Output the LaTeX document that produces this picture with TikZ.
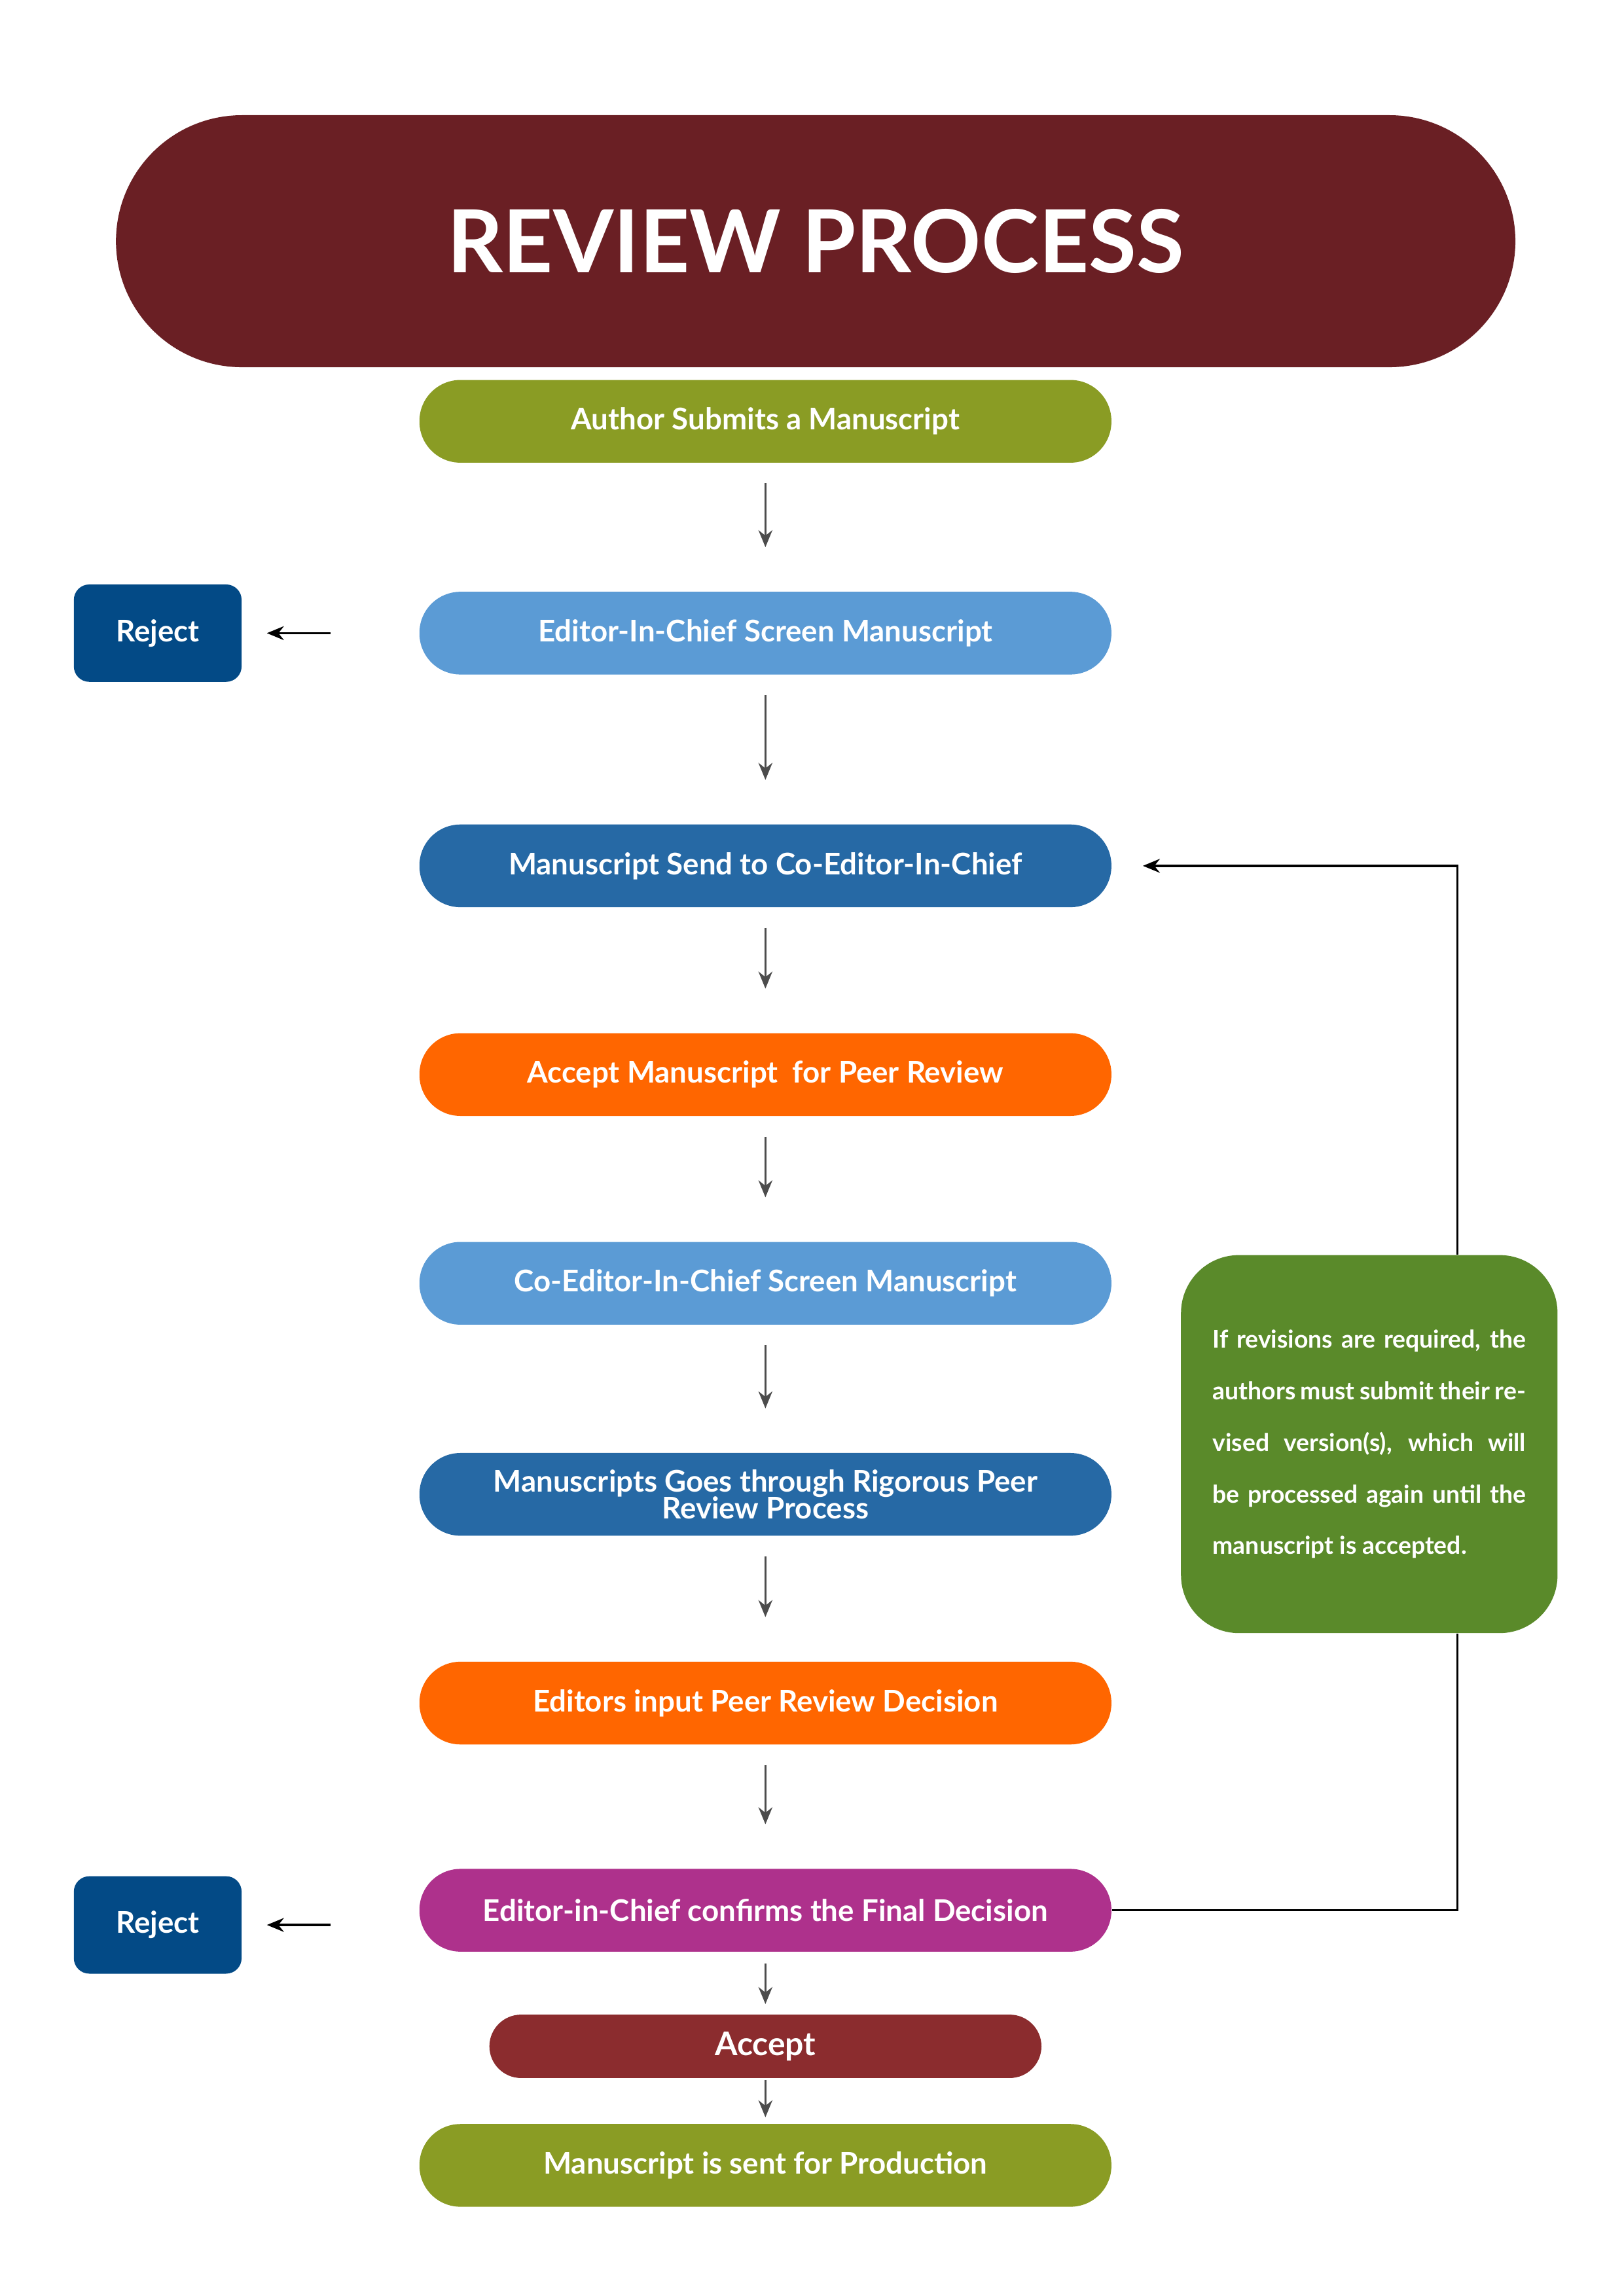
\documentclass[tikz,border=0pt]{standalone}
\usepackage{fontspec}
\setmainfont{Lato}
\usetikzlibrary{arrows.meta,positioning}
\definecolor{titlered}{HTML}{6A1F24}
\definecolor{olive}{HTML}{8A9C24}
\definecolor{lightblue}{HTML}{5B9BD5}
\definecolor{darkblue}{HTML}{2669A5}
\definecolor{orangebox}{HTML}{FF6600}
\definecolor{magentabox}{HTML}{AE318C}
\definecolor{acceptred}{HTML}{8B2C2E}
\definecolor{rejectblue}{HTML}{034A86}
\definecolor{notegreen}{HTML}{5A8A2A}
\tikzset{
  stepbox/.style={rounded corners=0.53cm, minimum width=8.95cm, minimum height=1.07cm,
    text=white, font=\fontsize{11}{12}\selectfont\bfseries, align=center, inner sep=2pt},
  rejectbox/.style={rounded corners=0.2cm, fill=rejectblue, minimum width=2.17cm,
    minimum height=1.26cm, text=white, font=\fontsize{11}{12}\selectfont\bfseries},
  flow/.style={draw=black!70, thick, -{Stealth[length=2.2mm,width=1.8mm]},
    shorten <=0.26cm, shorten >=0.57cm},
  back/.style={draw=black, thick, -{Stealth[length=2.2mm,width=1.8mm]}}
}
\begin{document}
\begin{tikzpicture}
\useasboundingbox (0,0) rectangle (21,-29.7);
% Titulo
\node[fill=titlered, rounded corners=1.63cm, minimum width=18.1cm, minimum height=3.26cm,
  text=white, font=\fontsize{32}{34}\selectfont\bfseries] (title) at (10.55,-3.12) {REVIEW PROCESS};

% Pasos
\node[stepbox, fill=olive] (submit) at (9.90,-5.45) {Author Submits a Manuscript};
\node[stepbox, fill=lightblue] (eicscreen) at (9.90,-8.19) {Editor-In-Chief Screen Manuscript};
\node[stepbox, fill=darkblue] (send) at (9.90,-11.20) {Manuscript Send to Co-Editor-In-Chief};
\node[stepbox, fill=orangebox] (acceptpeer) at (9.90,-13.90) {Accept Manuscript\ \ for Peer Review};
\node[stepbox, fill=lightblue] (coscreen) at (9.90,-16.60) {Co-Editor-In-Chief Screen Manuscript};
\node[stepbox, fill=darkblue] (rigorous) at (9.90,-19.33) {Manuscripts Goes through Rigorous Peer\\[-2pt] Review Process};
\node[stepbox, fill=orangebox] (input) at (9.90,-22.03) {Editors input Peer Review Decision};
\node[stepbox, fill=magentabox] (confirm) at (9.90,-24.71) {Editor-in-Chief confirms the Final Decision};
\node[stepbox, fill=acceptred, minimum width=7.14cm, minimum height=0.82cm, rounded corners=0.41cm,
  font=\fontsize{12}{13}\selectfont\bfseries] (accept) at (9.90,-26.47) {Accept};
\node[stepbox, fill=olive] (production) at (9.90,-28.01) {Manuscript is sent for Production};

% Rechazos
\node[rejectbox] (reject1) at (2.04,-8.19) {Reject};
\node[rejectbox] (reject2) at (2.04,-24.90) {Reject};

% Nota
\node[fill=notegreen, rounded corners=0.75cm, minimum width=4.87cm, minimum height=4.89cm,
  text=white, text width=4.05cm, align=justify,
  font=\fontsize{9}{19}\selectfont\bfseries] (note) at (17.71,-18.68)
  {If revisions are required, the authors must submit their revised version(s), which will be processed again until the manuscript is accepted.};

% Flechas
\draw[flow] (submit) -- (eicscreen);
\draw[flow] (eicscreen) -- (send);
\draw[flow] (send) -- (acceptpeer);
\draw[flow] (acceptpeer) -- (coscreen);
\draw[flow] (coscreen) -- (rigorous);
\draw[flow] (rigorous) -- (input);
\draw[flow] (input) -- (confirm);
\draw[flow, shorten <=0.15cm, shorten >=0.13cm] (confirm) -- (accept);
\draw[flow, shorten <=0.02cm, shorten >=0.08cm] (accept) -- (production);
\draw[back, shorten <=1.14cm, shorten >=0.32cm] (eicscreen.west) -- (reject1.east);
\draw[back, shorten <=1.14cm, shorten >=0.32cm] (confirm.west |- reject2.east) -- (reject2.east);

% Vuelta
\coordinate (loopbottom) at (18.85,-24.71);
\coordinate (looptop) at (18.85,-11.20);
\coordinate (sendend) at ([xshift=0.4cm]send.east);
\draw[thick] (confirm.east) -- (loopbottom) -- (loopbottom |- note.south);
\draw[back] (looptop |- note.north) -- (looptop) -- (sendend);
\end{tikzpicture}
\end{document}
